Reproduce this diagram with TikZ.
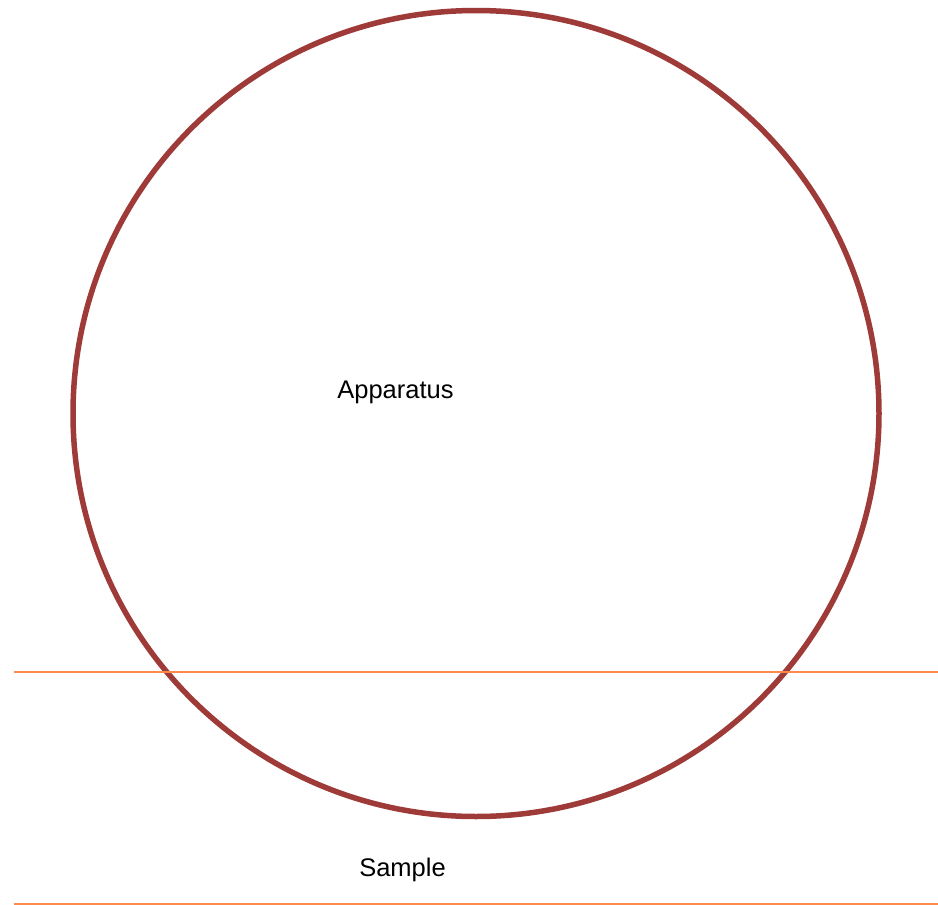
\documentclass[tikz,border=0pt]{standalone}
\usepackage{fontspec}
\setmainfont{Liberation Sans}
\definecolor{ringred}{HTML}{9E3A37}
\definecolor{lineorange}{HTML}{FF8A4C}
\begin{document}
\begin{tikzpicture}[x=1pt,y=-1pt,
  ring/.style={draw=ringred,line width=5.5pt},
  sampleline/.style={draw=lineorange,line width=2pt},
  lbl/.style={font=\fontsize{25.5}{30}\selectfont,inner sep=0pt,anchor=base}]
\useasboundingbox (0,0) rectangle (938,905);
\coordinate (c) at (476,413.5);
\draw[ring] (c) circle[radius=403];
\node[lbl] (app) at (395.5,398) {Apparatus};
\coordinate (l1a) at (14,672);
\coordinate (l1b) at (938,672);
\coordinate (l2a) at (14,903.5);
\coordinate (l2b) at (938,903.5);
\draw[sampleline] (l1a) -- (l1b);
\draw[sampleline] (l2a) -- (l2b);
\node[lbl] (smp) at (402.5,876) {Sample};
\end{tikzpicture}
\end{document}
